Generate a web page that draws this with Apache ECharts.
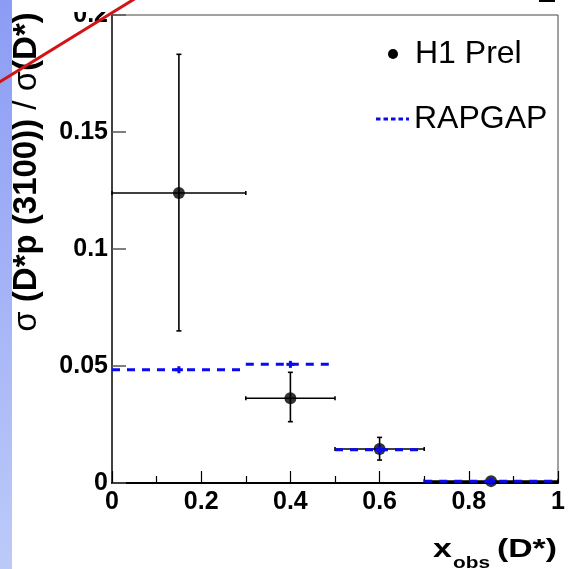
<!DOCTYPE html>
<html>
<head>
<meta charset="utf-8">
<script src="https://cdn.jsdelivr.net/npm/echarts@6/dist/echarts.min.js"></script>
<style>
html,body{margin:0;padding:0;background:#fff;}
#c{width:583px;height:569px;}
</style>
</head>
<body>
<div id="c"></div>
<script>
// ---- data ----
const binCenters = [0.15, 0.4, 0.6, 0.85];
const binLow     = [0.0, 0.3, 0.5, 0.7];
const binHigh    = [0.3, 0.5, 0.7, 1.0];
const h1Values   = [0.1239, 0.0362, 0.0145, 0.0008];
const h1ErrUp    = [0.0593, 0.0111, 0.0050, 0.0003];
const h1ErrDown  = [0.0589, 0.0100, 0.0047, 0.0003];
const rapgapValues = [0.0484, 0.0507, 0.0142, 0.0007];
const xTickLabels = ['0', '0.2', '0.4', '0.6', '0.8', '1'];
const yTickLabels = ['0', '0.05', '0.1', '0.15', '0.2'];

const FONT = '"Liberation Sans", Arial, Helvetica, sans-serif';
const BLUE = '#0a0af0';

const h1Data = binCenters.map((x, i) => [x, h1Values[i], binLow[i], binHigh[i],
  h1Values[i] - h1ErrDown[i], h1Values[i] + h1ErrUp[i]]);
const h1Points = binCenters.map((x, i) => [x, h1Values[i]]);
const rapData = binCenters.map((x, i) => [x, rapgapValues[i], binLow[i], binHigh[i]]);

const chart = echarts.init(document.getElementById('c'), null, {renderer: 'canvas'});

function errRender(params, api) {
  const c = api.coord([api.value(0), api.value(1)]);
  const l = api.coord([api.value(2), api.value(1)]);
  const r = api.coord([api.value(3), api.value(1)]);
  const lo = api.coord([api.value(0), api.value(4)]);
  const hi = api.coord([api.value(0), api.value(5)]);
  const st = {stroke: '#000', lineWidth: 1.6};
  const ch = [];
  ch.push({type: 'line', shape: {x1: l[0], y1: c[1], x2: r[0], y2: c[1]}, style: st});
  ch.push({type: 'line', shape: {x1: c[0], y1: lo[1], x2: c[0], y2: hi[1]}, style: st});
  ch.push({type: 'line', shape: {x1: l[0], y1: c[1] - 2, x2: l[0], y2: c[1] + 2}, style: st});
  ch.push({type: 'line', shape: {x1: r[0], y1: c[1] - 2, x2: r[0], y2: c[1] + 2}, style: st});
  if (Math.abs(hi[1] - lo[1]) > 4) {
    ch.push({type: 'line', shape: {x1: c[0] - 2.5, y1: lo[1], x2: c[0] + 2.5, y2: lo[1]}, style: st});
    ch.push({type: 'line', shape: {x1: c[0] - 2.5, y1: hi[1], x2: c[0] + 2.5, y2: hi[1]}, style: st});
  }
  return {type: 'group', children: ch};
}

function rapRender(params, api) {
  const c = api.coord([api.value(0), api.value(1)]);
  const l = api.coord([api.value(2), api.value(1)]);
  const r = api.coord([api.value(3), api.value(1)]);
  return {type: 'group', children: [
    {type: 'line', shape: {x1: l[0], y1: c[1], x2: r[0], y2: c[1]},
      style: {stroke: BLUE, lineWidth: 3, lineDash: [8, 7]}},
    {type: 'line', shape: {x1: c[0] - 4, y1: c[1], x2: c[0] + 4, y2: c[1]},
      style: {stroke: BLUE, lineWidth: 3}},
    {type: 'line', shape: {x1: c[0], y1: c[1] - 3.5, x2: c[0], y2: c[1] + 3.5},
      style: {stroke: BLUE, lineWidth: 3}}
  ]};
}

const option = {
  backgroundColor: '#fff',
  animation: false,
  grid: {left: 112, right: 25, top: 15, bottom: 86, show: true,
    borderColor: '#444', borderWidth: 1, backgroundColor: 'transparent'},
  xAxis: {
    type: 'value', min: 0, max: 1, interval: 0.2,
    axisLine: {show: true, onZero: false, lineStyle: {color: '#000', width: 2}},
    axisTick: {show: true, inside: true, length: 12, lineStyle: {color: '#000', width: 1.2}},
    minorTick: {show: true, splitNumber: 2, length: 7, lineStyle: {color: '#000', width: 1.2}},
    splitLine: {show: false},
    axisLabel: {margin: 7, color: '#000', fontFamily: FONT, fontWeight: 'bold', fontSize: 25,
      formatter: (v) => xTickLabels[Math.round(v / 0.2)]}
  },
  yAxis: {
    type: 'value', min: 0, max: 0.2, interval: 0.05,
    axisLine: {show: true, onZero: false, lineStyle: {color: '#222', width: 1.5}},
    axisTick: {show: true, inside: true, length: 14, lineStyle: {color: '#555', width: 1.5}},
    splitLine: {show: false},
    axisLabel: {margin: 4, color: '#000', fontFamily: FONT, fontWeight: 'bold', fontSize: 25,
      formatter: (v) => yTickLabels[Math.round(v / 0.05)]}
  },
  legend: [
    {left: 388, top: 38, padding: 0, itemWidth: 34, itemHeight: 10,
      textStyle: {fontFamily: FONT, fontSize: 32, color: '#000'},
      data: [{name: 'H1 Prel', icon: 'circle', itemStyle: {color: '#000'}}]},
    {left: 376, top: 103, padding: 0, itemWidth: 33, itemHeight: 3,
      textStyle: {fontFamily: FONT, fontSize: 32, color: '#000'},
      data: [{name: 'RAPGAP',
        icon: 'path://M0,0h4.5v3h-4.5zM7.5,0h4.5v3h-4.5zM15,0h4.5v3h-4.5zM22.5,0h4.5v3h-4.5zM30,0h3v3h-3z',
        itemStyle: {color: BLUE}}]}
  ],
  series: [
    {name: 'H1 Prel', type: 'custom', renderItem: errRender, data: h1Data,
      encode: {x: 0, y: 1}, z: 2, silent: true},
    {name: 'H1 Prel', type: 'scatter', data: h1Points, symbol: 'circle', symbolSize: 12,
      itemStyle: {color: '#000'}, z: 3, silent: true},
    {name: 'RAPGAP', type: 'custom', renderItem: rapRender, data: rapData,
      encode: {x: 0, y: 1}, z: 4, silent: true, itemStyle: {color: BLUE}}
  ],
  graphic: [
    {type: 'rect', left: 0, top: 0, z: 0, shape: {width: 12, height: 569},
      style: {fill: new echarts.graphic.LinearGradient(0, 0, 0, 1, [
        {offset: 0, color: '#8c9cf4'}, {offset: 1, color: '#bccaf9'}])}},
    {type: 'rect', left: 55, top: 0, z: 15, shape: {width: 56, height: 12}, style: {fill: '#fff'}},
    {type: 'text', x: 27, y: 172, rotation: Math.PI / 2, z: 10,
      style: {
        text: '{r|σ} {b|(D*p (3100))} {r|/} {r|σ}{b|(D*)}',
        align: 'center', verticalAlign: 'middle',
        rich: {
          r: {fontFamily: FONT, fontSize: 33, fill: '#000'},
          b: {fontFamily: FONT, fontSize: 33, fontWeight: 'bold', fill: '#000'}
        },
        fontFamily: FONT, fontSize: 33
      }},
    {type: 'text', x: 433, y: 563, scaleX: 1.3, z: 10,
      style: {text: 'x', fontFamily: FONT, fontSize: 26, fontWeight: 'bold', fill: '#000',
        align: 'left', verticalAlign: 'bottom'}},
    {type: 'text', x: 453, y: 572, scaleX: 1.3, z: 10,
      style: {text: 'obs', fontFamily: FONT, fontSize: 16, fontWeight: 'bold', fill: '#000',
        align: 'left', verticalAlign: 'bottom'}},
    {type: 'text', x: 557, y: 563, scaleX: 1.3, z: 10,
      style: {text: '(D*)', fontFamily: FONT, fontSize: 26, fontWeight: 'bold', fill: '#000',
        align: 'right', verticalAlign: 'bottom'}},
    {type: 'rect', left: 539, top: 0, z: 10, shape: {width: 16, height: 2}, style: {fill: '#000'}},
    {type: 'line', z: 20, shape: {x1: -2, y1: 83, x2: 136, y2: -2},
      style: {stroke: '#d21414', lineWidth: 3}}
  ]
};
chart.setOption(option);
</script>
</body>
</html>
